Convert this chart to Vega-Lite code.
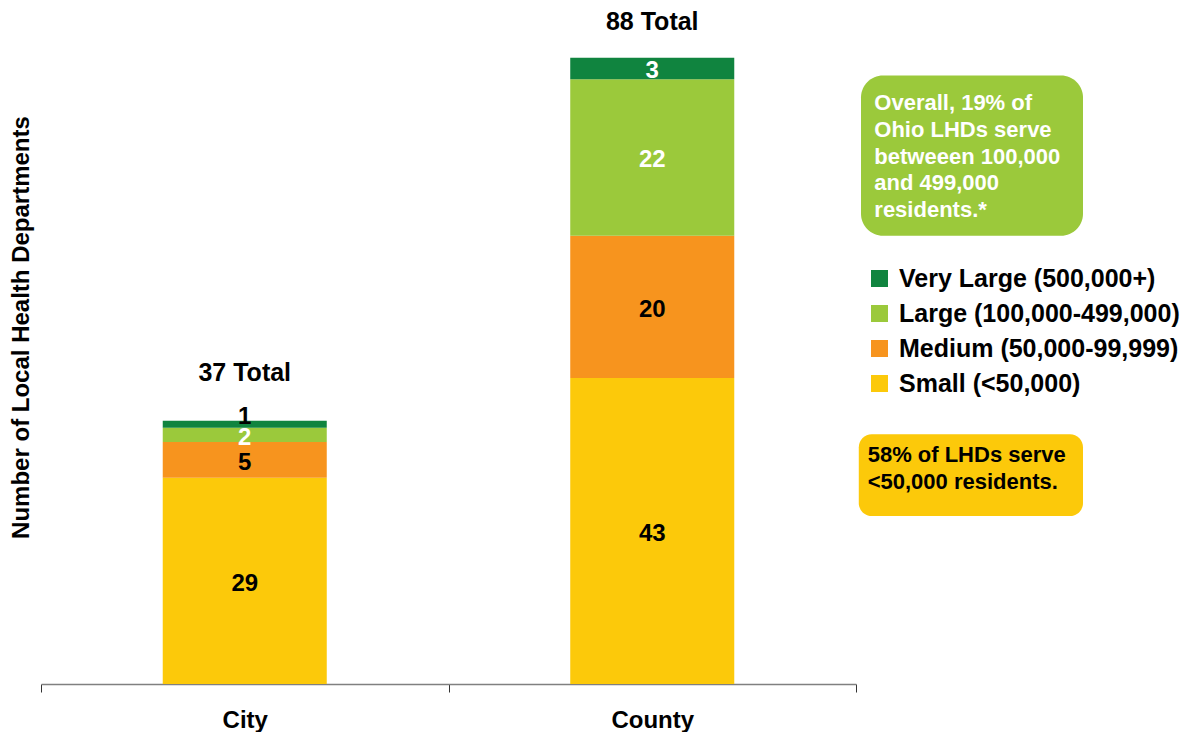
{
  "$schema": "https://vega.github.io/schema/vega-lite/v6.json",
  "padding": {"left": 9, "top": 8, "right": 0, "bottom": 0},
  "background": "white",
  "spacing": 1,
  "config": {
    "view": {"stroke": null},
    "font": "Liberation Sans",
    "text": {"font": "Liberation Sans", "fontWeight": "bold"}
  },
  "resolve": {"scale": {"y": "shared", "x": "independent"}},
  "datasets": {
    "lhd": [
      {"type": "City", "size": "Small (<50,000)", "rank": 1, "n": 29},
      {"type": "City", "size": "Medium (50,000-99,999)", "rank": 2, "n": 5},
      {"type": "City", "size": "Large (100,000-499,000)", "rank": 3, "n": 2},
      {"type": "City", "size": "Very Large (500,000+)", "rank": 4, "n": 1},
      {"type": "County", "size": "Small (<50,000)", "rank": 1, "n": 43},
      {"type": "County", "size": "Medium (50,000-99,999)", "rank": 2, "n": 20},
      {"type": "County", "size": "Large (100,000-499,000)", "rank": 3, "n": 22},
      {"type": "County", "size": "Very Large (500,000+)", "rank": 4, "n": 3}
    ],
    "notes": [
      {"kind": "large", "note": "Overall, 19% of\nOhio LHDs serve\nbetweeen 100,000\nand 499,000\nresidents.*", "x1": 0, "x2": 1, "y1": 63, "y2": 85.5, "tx": 0.06, "ty": 81.6},
      {"kind": "small", "note": "58% of LHDs serve\n<50,000 residents.", "x1": -0.01, "x2": 1, "y1": 23.6, "y2": 35.1, "tx": 0.03, "ty": 32.2}
    ]
  },
  "hconcat": [
    {
      "width": 815,
      "height": 676,
      "data": {"name": "lhd"},
      "encoding": {
        "x": {
          "field": "type",
          "type": "nominal",
          "scale": {"paddingInner": 0, "paddingOuter": 0},
          "axis": {
            "title": null,
            "labelAngle": 0,
            "labelFontSize": 24,
            "labelFontWeight": "bold",
            "labelColor": "black",
            "labelFont": "Liberation Sans",
            "labelPadding": 16,
            "tickBand": "extent",
            "tickSize": 8,
            "tickColor": "#333333",
            "domainColor": "#808080",
            "domainWidth": 1.5,
            "grid": false
          }
        }
      },
      "layer": [
        {
          "mark": {"type": "bar", "width": {"band": 0.4025}},
          "encoding": {
            "y": {
              "field": "n",
              "type": "quantitative",
              "stack": "zero",
              "scale": {"domain": [0, 95], "nice": false},
              "axis": {
                "title": "Number of Local Health Departments",
                "labels": false,
                "ticks": false,
                "domain": false,
                "grid": false,
                "titleFont": "Liberation Sans",
                "titleFontSize": 24,
                "titleFontWeight": "bold",
                "titleColor": "black",
                "titleX": -20,
                "titleBaseline": "middle",
                "titleY": 319
              }
            },
            "color": {
              "field": "size",
              "type": "nominal",
              "scale": {
                "domain": ["Very Large (500,000+)", "Large (100,000-499,000)", "Medium (50,000-99,999)", "Small (<50,000)"],
                "range": ["#10843F", "#9BC93B", "#F7941E", "#FCC90A"]
              },
              "legend": {
                "orient": "none",
                "legendX": 826,
                "legendY": 258,
                "title": null,
                "padding": 0,
                "labelFont": "Liberation Sans",
                "labelFontSize": 25,
                "labelFontWeight": "bold",
                "labelColor": "black",
                "labelLimit": 400,
                "labelOffset": 7,
                "symbolType": "square",
                "symbolSize": 290,
                "symbolStrokeWidth": 0,
                "symbolOpacity": 1,
                "rowPadding": 9
              }
            },
            "order": {"field": "rank", "type": "quantitative"}
          }
        },
        {
          "transform": [
            {"stack": "n", "groupby": ["type"], "sort": [{"field": "rank"}], "as": ["y0", "y1"]},
            {"calculate": "(datum.y0 + datum.y1) / 2", "as": "ymid"},
            {"filter": "!(datum.type === 'City' && datum.rank === 4)"}
          ],
          "mark": {"type": "text", "fontSize": 24, "fontWeight": "bold", "baseline": "middle", "dy": 3},
          "encoding": {
            "y": {"field": "ymid", "type": "quantitative"},
            "text": {"field": "n", "type": "quantitative"},
            "color": {
              "condition": {"test": "datum.size === 'Large (100,000-499,000)' || datum.size === 'Very Large (500,000+)'", "value": "white"},
              "value": "black"
            }
          }
        },
        {
          "transform": [
            {"stack": "n", "groupby": ["type"], "sort": [{"field": "rank"}], "as": ["y0", "y1"]},
            {"calculate": "(datum.y0 + datum.y1) / 2", "as": "ymid"},
            {"filter": "datum.type === 'City' && datum.rank === 4"}
          ],
          "mark": {"type": "text", "fontSize": 24, "fontWeight": "bold", "baseline": "middle", "dy": -7, "color": "black"},
          "encoding": {
            "y": {"field": "ymid", "type": "quantitative"},
            "text": {"field": "n", "type": "quantitative"}
          }
        },
        {
          "transform": [
            {"aggregate": [{"op": "sum", "field": "n", "as": "total"}], "groupby": ["type"]},
            {"calculate": "datum.total + ' Total'", "as": "label"},
            {"filter": "datum.type === 'County'"}
          ],
          "mark": {"type": "text", "fontSize": 25, "fontWeight": "bold", "baseline": "middle", "dy": -36, "color": "black"},
          "encoding": {
            "y": {"field": "total", "type": "quantitative"},
            "text": {"field": "label", "type": "nominal"}
          }
        },
        {
          "transform": [
            {"aggregate": [{"op": "sum", "field": "n", "as": "total"}], "groupby": ["type"]},
            {"calculate": "datum.total + ' Total'", "as": "label"},
            {"filter": "datum.type === 'City'"}
          ],
          "mark": {"type": "text", "fontSize": 25, "fontWeight": "bold", "baseline": "middle", "dy": -48, "color": "black"},
          "encoding": {
            "y": {"field": "total", "type": "quantitative"},
            "text": {"field": "label", "type": "nominal"}
          }
        }
      ]
    },
    {
      "width": 222,
      "height": 676,
      "data": {"name": "notes"},
      "encoding": {
        "x": {"field": "x1", "type": "quantitative", "scale": {"domain": [0, 1]}, "axis": null},
        "y": {"field": "y1", "type": "quantitative", "axis": null}
      },
      "layer": [
        {
          "transform": [{"filter": "datum.kind === 'large'"}],
          "mark": {"type": "rect", "cornerRadius": 22, "fill": "#9BC93B"},
          "encoding": {"x2": {"field": "x2"}, "y2": {"field": "y2"}}
        },
        {
          "transform": [{"filter": "datum.kind === 'small'"}],
          "mark": {"type": "rect", "cornerRadius": 13, "fill": "#FCC90A"},
          "encoding": {"x2": {"field": "x2"}, "y2": {"field": "y2"}}
        },
        {
          "mark": {"type": "text", "align": "left", "baseline": "middle", "lineBreak": "\n", "lineHeight": 26.7, "fontSize": 22, "fontWeight": "bold"},
          "encoding": {
            "x": {"field": "tx", "type": "quantitative"},
            "y": {"field": "ty", "type": "quantitative"},
            "text": {"field": "note", "type": "nominal"},
            "color": {"condition": {"test": "datum.kind === 'large'", "value": "white"}, "value": "black"}
          }
        }
      ]
    }
  ]
}
